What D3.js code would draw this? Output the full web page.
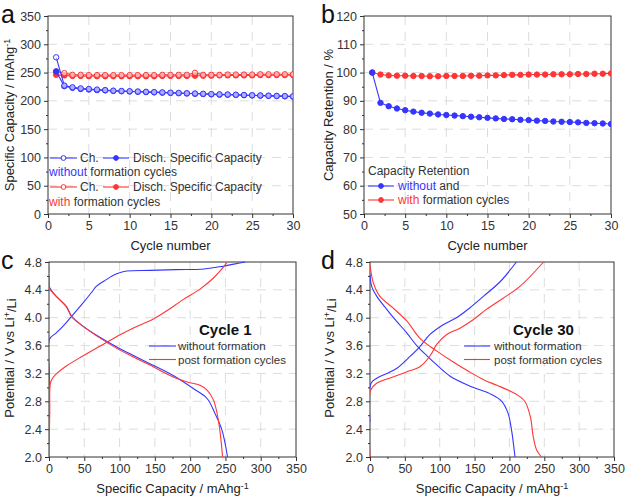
<!DOCTYPE html>
<html>
<head>
<meta charset="utf-8">
<script src="https://cdn.jsdelivr.net/npm/d3@7/dist/d3.min.js"></script>
<style>
  body { margin: 0; background: #fff; }
  svg { font-family: "Liberation Sans", Arial, sans-serif; }
</style>
</head>
<body>
<div id="chart"></div>
<script>
// cycle numbers for panels a and b
var cycles = [1, 2, 3, 4, 5, 6, 7, 8, 9, 10, 11, 12, 13, 14, 15, 16, 17, 18, 19, 20, 21, 22, 23, 24, 25, 26, 27, 28, 29, 30];

// panel a: specific capacity (mAh/g)
var blueCharge = [277, 227, 224, 222, 221, 220, 219, 218, 217.5, 217, 216.5, 216, 215.5, 215, 214.5, 214, 213.5, 213, 212.5, 212, 211.5, 211.2, 210.8, 210.4, 210, 209.6, 209.2, 208.8, 208.4, 208];
var blueDisch = [252, 226, 223, 221, 220, 219, 218.5, 217.5, 217, 216.5, 216, 215.5, 215, 214.5, 214, 213.5, 213, 212.5, 212, 211.5, 211, 210.8, 210.5, 210, 209.6, 209.2, 208.8, 208.4, 208, 207.5];
var redCharge = [252, 249, 246, 246, 245.5, 245.5, 245.5, 245.5, 245.5, 245.5, 245.5, 245.5, 245.5, 246, 246, 246, 246, 249.5, 246, 246, 246, 246.5, 246.5, 246.5, 246.5, 247, 247, 247, 247, 247];
var redDisch = [246, 245, 244, 244, 243.5, 243.5, 243.5, 243.5, 243.5, 243.5, 243.5, 243.5, 243.5, 244, 244, 244, 244, 244.5, 244.5, 244.5, 245, 245, 245, 245, 245, 245.5, 245.5, 245.5, 245.5, 245.5];

// panel b: capacity retention (%)
var blueRetention = [100, 89.3, 88.1, 87.3, 86.7, 86.2, 85.8, 85.5, 85.2, 85.0, 84.8, 84.6, 84.4, 84.2, 84.0, 83.8, 83.6, 83.5, 83.3, 83.2, 83.0, 82.9, 82.7, 82.6, 82.5, 82.4, 82.2, 82.1, 82.0, 81.8];
var redRetention = [100, 99.3, 99.0, 98.9, 98.9, 98.8, 98.8, 98.7, 98.7, 98.8, 98.8, 98.8, 98.9, 98.9, 99.0, 99.0, 99.1, 99.2, 99.2, 99.3, 99.3, 99.3, 99.4, 99.4, 99.4, 99.5, 99.5, 99.6, 99.6, 99.7];

// panel c: cycle 1 voltage profiles [capacity, potential]
var c1BlueCharge = [[0, 2.37], [0.3, 3.2], [0.6, 3.69], [10, 3.78], [20, 3.88], [32, 4.02], [48, 4.21], [60, 4.36], [67, 4.45], [77, 4.52], [88, 4.59], [96, 4.63], [110, 4.67], [143, 4.68], [180, 4.69], [220, 4.7], [247, 4.74], [262, 4.77], [278, 4.8]];
var c1RedCharge = [[0, 2.0], [1, 2.6], [2, 3.06], [5, 3.13], [10, 3.19], [25, 3.31], [48, 3.45], [72, 3.59], [96, 3.73], [119, 3.85], [148, 3.98], [167, 4.1], [190, 4.26], [214, 4.41], [233, 4.57], [245, 4.7], [252, 4.79]];
var c1BlueDisch = [[0, 4.6], [1, 4.43], [10, 4.31], [24.6, 4.16], [32, 4.02], [48, 3.88], [72, 3.72], [96, 3.58], [119, 3.46], [143, 3.34], [176, 3.17], [205, 2.98], [224, 2.84], [235, 2.63], [245, 2.39], [253, 2.0]];
var c1RedDisch = [[0, 4.72], [1, 4.42], [10, 4.31], [24.6, 4.16], [32, 4.02], [48, 3.88], [72, 3.71], [96, 3.56], [119, 3.44], [143, 3.32], [176, 3.15], [195, 3.08], [214, 3.03], [224, 2.96], [233, 2.82], [240, 2.53], [246, 2.0]];

// panel d: cycle 30 voltage profiles [capacity, potential]
var c30BlueCharge = [[0, 2.51], [1.5, 3.06], [9.6, 3.13], [28.7, 3.22], [38, 3.27], [57, 3.44], [72, 3.59], [86, 3.76], [105, 3.9], [124, 4.0], [143, 4.14], [163, 4.31], [187, 4.52], [210, 4.8]];
var c30RedCharge = [[0, 2.0], [1, 2.96], [9.6, 3.06], [33, 3.15], [52, 3.22], [72, 3.3], [86, 3.45], [96, 3.62], [110, 3.76], [129, 3.85], [148, 3.97], [167, 4.12], [191, 4.28], [215, 4.45], [249, 4.8]];
var c30BlueDisch = [[0, 4.62], [2.4, 4.45], [9.6, 4.31], [24, 4.12], [38, 3.95], [53, 3.78], [67, 3.6], [81, 3.46], [95, 3.33], [115, 3.16], [143, 3.02], [172, 2.91], [189, 2.8], [198, 2.63], [203, 2.39], [208, 2.0]];
var c30RedDisch = [[0, 4.76], [4.8, 4.5], [14, 4.31], [33, 4.14], [53, 3.95], [72, 3.7], [96, 3.52], [120, 3.36], [143, 3.22], [165, 3.1], [182, 3.03], [210, 2.9], [222, 2.8], [230, 2.58], [234, 2.3], [239, 2.1], [246, 2.0]];

// tick values
var cycleTicks = [0, 5, 10, 15, 20, 25, 30];
var capacityTicksA = [0, 50, 100, 150, 200, 250, 300, 350];
var retentionTicks = [50, 60, 70, 80, 90, 100, 110, 120];
var capacityTicksCD = [0, 50, 100, 150, 200, 250, 300, 350];
var potentialTicks = [2.0, 2.4, 2.8, 3.2, 3.6, 4.0, 4.4, 4.8];

var BLUE = "#3535ff";
var RED = "#ff3535";
var AXIS = "#333";

var svg = d3.select("#chart").append("svg")
	.attr("width", 627)
	.attr("height", 499);

svg.append("rect").attr("width", 627).attr("height", 499).attr("fill", "#fff");

/**
 * draws frame, grid, axes of one panel and returns its scales
 */
function drawPanel(p)
{
	var g = svg.append("g");
	var x = d3.scaleLinear().domain(p.xDomain).range([p.left, p.right]);
	var y = d3.scaleLinear().domain(p.yDomain).range([p.bottom, p.top]);

	// dashed grid at the major ticks
	g.selectAll(".gx").data(p.xTicks.slice(1, -1)).enter().append("line")
		.attr("x1", function (d) { return x(d); })
		.attr("x2", function (d) { return x(d); })
		.attr("y1", p.top).attr("y2", p.bottom)
		.attr("stroke", "#dcdcdc").attr("stroke-dasharray", "9,7");
	g.selectAll(".gy").data(p.yTicks.slice(1, -1)).enter().append("line")
		.attr("y1", function (d) { return y(d); })
		.attr("y2", function (d) { return y(d); })
		.attr("x1", p.left).attr("x2", p.right)
		.attr("stroke", "#dcdcdc").attr("stroke-dasharray", "9,7");

	// minor ticks halfway between majors
	var xMinor = p.xTicks.slice(1).map(function (d, i) { return (d + p.xTicks[i]) / 2; });
	var yMinor = p.yTicks.slice(1).map(function (d, i) { return (d + p.yTicks[i]) / 2; });

	g.append("g").attr("transform", "translate(0," + p.bottom + ")")
		.call(d3.axisBottom(x).tickValues(p.xTicks).tickSize(4).tickPadding(3).tickFormat(p.xFormat || d3.format("d")));
	g.append("g").attr("transform", "translate(0," + p.bottom + ")")
		.call(d3.axisBottom(x).tickValues(xMinor).tickSize(2).tickFormat(""));
	g.append("g").attr("transform", "translate(" + p.left + ",0)")
		.call(d3.axisLeft(y).tickValues(p.yTicks).tickSize(4).tickPadding(3).tickFormat(p.yFormat || d3.format("d")));
	g.append("g").attr("transform", "translate(" + p.left + ",0)")
		.call(d3.axisLeft(y).tickValues(yMinor).tickSize(2).tickFormat(""));

	g.selectAll(".domain").remove();
	g.selectAll(".tick line").attr("stroke", AXIS);
	g.selectAll(".tick text")
		.attr("fill", AXIS)
		.style("font-size", "12.5px")
		.style("font-family", "'Liberation Sans', Arial, sans-serif");

	// frame
	g.append("rect")
		.attr("x", p.left).attr("y", p.top)
		.attr("width", p.right - p.left).attr("height", p.bottom - p.top)
		.attr("fill", "none").attr("stroke", AXIS).attr("stroke-width", 1);

	// clip region for the data
	svg.append("clipPath").attr("id", p.id)
		.append("rect")
		.attr("x", p.left).attr("y", p.top - 1)
		.attr("width", p.right - p.left).attr("height", p.bottom - p.top + 2);

	// panel letter
	svg.append("text")
		.attr("x", p.letterX).attr("y", p.top + 7)
		.style("font-size", "25px")
		.attr("fill", "#111")
		.text(p.letter);

	return { x: x, y: y };
}

/**
 * writes a label with a superscript part
 */
function supLabel(sel, main, sup, tail)
{
	sel.append("tspan").text(main);
	sel.append("tspan").attr("dy", "-0.45em").style("font-size", "9px").text(sup);
	if (tail !== undefined) {
		sel.append("tspan").attr("dy", "0.45em").text(tail);
	}
}

function xTitle(p, txt, yPos, sup)
{
	var t = svg.append("text")
		.attr("x", (p.left + p.right) / 2).attr("y", yPos)
		.attr("text-anchor", "middle")
		.style("font-size", "13px").attr("fill", "#222");
	if (sup) supLabel(t, txt, sup); else t.text(txt);
}

function yTitle(cx, cy, main, sup, tail)
{
	var t = svg.append("text")
		.attr("transform", "translate(" + cx + "," + cy + ") rotate(-90)")
		.attr("text-anchor", "middle")
		.style("font-size", "13px").attr("fill", "#222");
	if (sup) supLabel(t, main, sup, tail); else t.text(main);
}

function drawSeries(s, clipId, xs, ys, color, open)
{
	var line = d3.line()
		.x(function (d, i) { return s.x(xs[i]); })
		.y(function (d) { return s.y(d); });
	var g = svg.append("g").attr("clip-path", "url(#" + clipId + ")");
	g.append("path").datum(ys)
		.attr("d", line)
		.attr("fill", "none").attr("stroke", color).attr("stroke-width", 1.1);
	g.selectAll("circle").data(ys).enter().append("circle")
		.attr("cx", function (d, i) { return s.x(xs[i]); })
		.attr("cy", function (d) { return s.y(d); })
		.attr("r", 2.7)
		.attr("fill", open ? "#fff" : color)
		.attr("fill-opacity", open ? 0.6 : 1)
		.attr("stroke", color).attr("stroke-width", 1);
}

function drawCurve(s, clipId, pts, color)
{
	var line = d3.line()
		.x(function (d) { return s.x(d[0]); })
		.y(function (d) { return s.y(d[1]); })
		.curve(d3.curveCatmullRom.alpha(0.5));
	svg.append("path").datum(pts)
		.attr("clip-path", "url(#" + clipId + ")")
		.attr("d", line)
		.attr("fill", "none").attr("stroke", color).attr("stroke-width", 1.1);
}

// ---------------- panel a ----------------
var pa = { id: "clipA", letter: "a", letterX: 1, left: 48, right: 293, top: 16, bottom: 214,
	xDomain: [0, 30], yDomain: [0, 350], xTicks: cycleTicks, yTicks: capacityTicksA };
var sa = drawPanel(pa);
drawSeries(sa, "clipA", cycles, redDisch, RED, false);
drawSeries(sa, "clipA", cycles, redCharge, RED, true);
drawSeries(sa, "clipA", cycles, blueDisch, BLUE, false);
drawSeries(sa, "clipA", cycles, blueCharge, BLUE, true);
xTitle(pa, "Cycle number", 250);
yTitle(14, 115, "Specific Capacity / mAhg", "-1");

// legend helpers
function legendMarker(x0, x1, yPos, color, open)
{
	svg.append("line").attr("x1", x0).attr("x2", x1).attr("y1", yPos).attr("y2", yPos)
		.attr("stroke", color).attr("stroke-width", 1.1);
	svg.append("circle").attr("cx", (x0 + x1) / 2).attr("cy", yPos).attr("r", 2.4)
		.attr("fill", open ? "#fff" : color).attr("stroke", color);
}
function legendText(xPos, yPos, parts, size)
{
	var t = svg.append("text").attr("x", xPos).attr("y", yPos + 4)
		.style("font-size", size || "12px").attr("fill", "#333");
	parts.forEach(function (p) {
		t.append("tspan").attr("fill", p[1] || "#333").text(p[0]);
	});
}

// legend a
legendMarker(50, 77, 158, BLUE, true);
legendText(80, 158, [["Ch."]]);
legendMarker(103, 129, 158, BLUE, false);
legendText(133, 158, [["Disch. Specific Capacity"]]);
legendText(49, 172, [["without", BLUE], [" formation cycles"]]);
legendMarker(50, 77, 187, RED, true);
legendText(80, 187, [["Ch."]]);
legendMarker(103, 129, 187, RED, false);
legendText(133, 187, [["Disch. Specific Capacity"]]);
legendText(49, 202, [["with", RED], [" formation cycles"]]);

// ---------------- panel b ----------------
var pb = { id: "clipB", letter: "b", letterX: 321, left: 364, right: 611, top: 16, bottom: 214,
	xDomain: [0, 30], yDomain: [50, 120], xTicks: cycleTicks, yTicks: retentionTicks };
var sb = drawPanel(pb);
drawSeries(sb, "clipB", cycles, redRetention, RED, false);
drawSeries(sb, "clipB", cycles, blueRetention, BLUE, false);
xTitle(pb, "Cycle number", 250);
yTitle(333, 115, "Capacity Retention / %");

legendText(368, 171, [["Capacity Retention"]]);
legendMarker(368, 394, 186, BLUE, false);
legendText(398, 186, [["without", BLUE], [" and"]]);
legendMarker(368, 394, 200, RED, false);
legendText(398, 200, [["with", RED], [" formation cycles"]]);

// ---------------- panel c ----------------
var fmt1 = d3.format(".1f");
var pc = { id: "clipC", letter: "c", letterX: 1, left: 49, right: 296, top: 262, bottom: 457,
	xDomain: [0, 350], yDomain: [2.0, 4.8], xTicks: capacityTicksCD, yTicks: potentialTicks, yFormat: fmt1 };
var sc = drawPanel(pc);
drawCurve(sc, "clipC", c1BlueCharge, BLUE);
drawCurve(sc, "clipC", c1BlueDisch, BLUE);
drawCurve(sc, "clipC", c1RedCharge, RED);
drawCurve(sc, "clipC", c1RedDisch, RED);
xTitle(pc, "Specific Capacity / mAhg", 493, "-1");
yTitle(14, 358, "Potential / V vs Li", "+", "/Li");

function curveLegend(title, titleX, lx0, lx1, tx)
{
	svg.append("text").attr("x", titleX).attr("y", 335)
		.style("font-size", "15px").style("font-weight", "bold").attr("fill", "#111")
		.text(title);
	svg.append("line").attr("x1", lx0).attr("x2", lx1).attr("y1", 346).attr("y2", 346)
		.attr("stroke", BLUE).attr("stroke-width", 1.1);
	legendText(tx, 346, [["without formation"]], "11.5px");
	svg.append("line").attr("x1", lx0).attr("x2", lx1).attr("y1", 359.5).attr("y2", 359.5)
		.attr("stroke", RED).attr("stroke-width", 1.1);
	legendText(tx, 359.5, [["post formation cycles"]], "11.5px");
}
curveLegend("Cycle 1", 199, 149, 176, 178);

// ---------------- panel d ----------------
var pd = { id: "clipD", letter: "d", letterX: 321, left: 370, right: 614, top: 262, bottom: 457,
	xDomain: [0, 350], yDomain: [2.0, 4.8], xTicks: capacityTicksCD, yTicks: potentialTicks, yFormat: fmt1 };
var sd = drawPanel(pd);
drawCurve(sd, "clipD", c30BlueCharge, BLUE);
drawCurve(sd, "clipD", c30BlueDisch, BLUE);
drawCurve(sd, "clipD", c30RedCharge, RED);
drawCurve(sd, "clipD", c30RedDisch, RED);
xTitle(pd, "Specific Capacity / mAhg", 493, "-1");
yTitle(334, 358, "Potential / V vs Li", "+", "/Li");
curveLegend("Cycle 30", 513, 464, 490, 494);
</script>
</body>
</html>
